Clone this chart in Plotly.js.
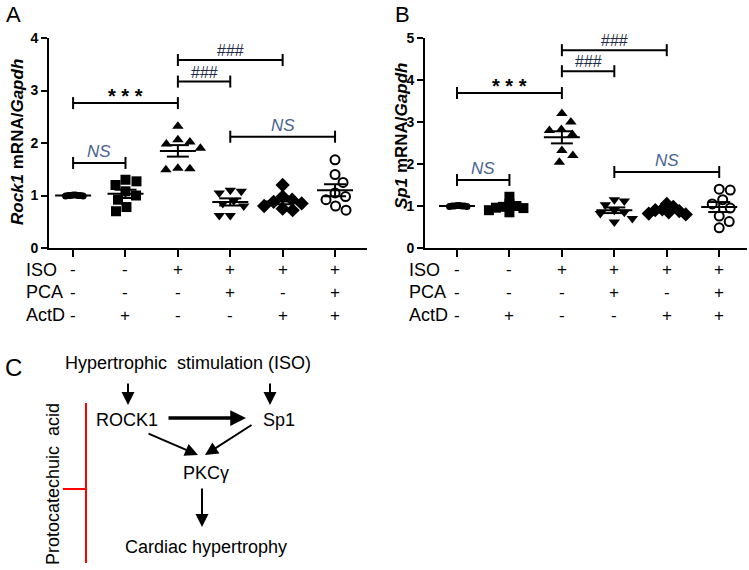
<!DOCTYPE html>
<html><head><meta charset="utf-8">
<script src="https://cdn.plot.ly/plotly-3.0.1.min.js"></script>
<style>html,body{margin:0;padding:0;background:#fff}#chart{width:749px;height:570px}</style>
</head><body><div id="chart"></div>
<script>
// ---------------- data ----------------
const categories = [1, 2, 3, 4, 5, 6];
// Panel A: Rock1 mRNA/Gapdh
const rock1_ctrl      = [1.00, 1.00, 1.01, 0.99, 1.00, 1.00, 1.01, 0.99];
const rock1_actd      = [1.30, 1.27, 1.20, 1.08, 1.00, 0.92, 0.78, 0.70];
const rock1_iso       = [2.32, 2.06, 2.02, 1.98, 1.90, 1.52, 1.49, 1.51];
const rock1_iso_pca   = [1.10, 1.08, 1.05, 0.90, 0.85, 0.80, 0.62, 0.62];
const rock1_iso_actd  = [1.20, 0.98, 0.92, 0.88, 0.85, 0.80, 0.75, 0.72];
const rock1_iso_both  = [1.68, 1.40, 1.25, 1.05, 0.98, 0.92, 0.80, 0.72];
// Panel B: Sp1 mRNA/Gapdh
const sp1_ctrl        = [1.00, 1.00, 1.01, 0.99, 1.00, 1.00, 1.01, 0.99];
const sp1_actd        = [1.22, 1.05, 1.00, 0.98, 0.96, 0.95, 0.90, 0.85];
const sp1_iso         = [3.20, 3.00, 2.82, 2.80, 2.70, 2.32, 2.20, 2.04];
const sp1_iso_pca     = [1.15, 1.12, 1.03, 0.90, 0.85, 0.82, 0.70, 0.62];
const sp1_iso_actd    = [1.05, 0.98, 0.92, 0.90, 0.88, 0.85, 0.82, 0.80];
const sp1_iso_both    = [1.40, 1.38, 1.15, 1.05, 0.95, 0.76, 0.63, 0.48];
// treatment table
const rowLabels = ['ISO', 'PCA', 'ActD'];
const isoRow  = ['-', '-', '+', '+', '+', '+'];
const pcaRow  = ['-', '-', '-', '+', '-', '+'];
const actdRow = ['-', '+', '-', '-', '+', '+'];
// significance brackets: [from, to, level, label]
const sigA = [[1, 2, 1.62, 'NS'], [1, 3, 2.76, '* * *'], [3, 4, 3.17, '###'], [3, 5, 3.58, '###'], [4, 6, 2.12, 'NS']];
const sigB = [[1, 2, 1.62, 'NS'], [1, 3, 3.69, '* * *'], [3, 4, 4.21, '###'], [3, 5, 4.71, '###'], [4, 6, 1.81, 'NS']];
const yTicksA = [0, 1, 2, 3, 4];
const yTicksB = [0, 1, 2, 3, 4, 5];

// ---------------- layout helpers ----------------
const W = 749, H = 570;
const X = p => p / W, Y = p => 1 - p / H;
const FONT = 'Arial, "Liberation Sans", sans-serif';
const symbols = ['circle', 'square', 'triangle-up', 'triangle-down', 'diamond', 'circle-open'];
const sizes = [7, 10, 10, 10, 11, 9];

const panelA = {xd: [49, 367], xr: [0.54, 6.61], yr: [0, 4], series: [rock1_ctrl, rock1_actd, rock1_iso, rock1_iso_pca, rock1_iso_actd, rock1_iso_both], sig: sigA, xa: 'x', ya: 'y', ticks: yTicksA,
  dist: [2.5, 11, 12, 11, 10, 11]};
const panelB = {xd: [425, 747], xr: [0.39, 6.53], yr: [0, 5], series: [sp1_ctrl, sp1_actd, sp1_iso, sp1_iso_pca, sp1_iso_actd, sp1_iso_both], sig: sigB, xa: 'x2', ya: 'y2', ticks: yTicksB,
  dist: [2.5, 7, 12, 10, 7, 11]};
const yDomPx = [38, 248];

function swarm(vals, pyU, pxU, minD) {
  const order = vals.map((v, i) => i).sort((a, b) => vals[b] - vals[a]);
  const placed = [], off = new Array(vals.length).fill(0);
  for (const i of order) {
    const y = vals[i] * pyU;
    let k = 0, found = null;
    while (found === null) {
      const c = k === 0 ? [0] : [k, -k];
      for (const cx of c) {
        if (placed.every(p => Math.hypot(p.x - cx, p.y - y) >= minD)) { found = cx; break; }
      }
      k += 0.5;
    }
    placed.push({x: found, y}); off[i] = found / pxU;
  }
  return off;
}

const traces = [], shapes = [], annotations = [];
const black = '#000';

function buildPanel(P) {
  const pxU = (P.xd[1] - P.xd[0]) / (P.xr[1] - P.xr[0]);
  const pyU = (yDomPx[1] - yDomPx[0]) / (P.yr[1] - P.yr[0]);
  P.series.forEach((vals, gi) => {
    const g = categories[gi];
    const off = swarm(vals, pyU, pxU, P.dist[gi]);
    const open = symbols[gi] === 'circle-open';
    traces.push({
      type: 'scatter', mode: 'markers', xaxis: P.xa, yaxis: P.ya, showlegend: false, hoverinfo: 'y',
      x: vals.map((v, i) => g + off[i]), y: vals,
      marker: {symbol: open ? 'circle' : symbols[gi], size: sizes[gi], color: open ? '#fff' : black,
               line: {color: black, width: open ? 2 : 0}}
    });
    const n = vals.length;
    const mean = vals.reduce((a, b) => a + b, 0) / n;
    const sd = Math.sqrt(vals.reduce((a, b) => a + (b - mean) ** 2, 0) / (n - 1));
    const sem = sd / Math.sqrt(n);
    const ln = {color: black, width: 2};
    const mw = 18 / pxU, cw = 11 / pxU;
    shapes.push({type: 'line', xref: P.xa, yref: P.ya, x0: g - mw, x1: g + mw, y0: mean, y1: mean, line: ln});
    shapes.push({type: 'line', xref: P.xa, yref: P.ya, x0: g, x1: g, y0: mean - sem, y1: mean + sem, line: ln});
    shapes.push({type: 'line', xref: P.xa, yref: P.ya, x0: g - cw, x1: g + cw, y0: mean - sem, y1: mean - sem, line: ln});
    shapes.push({type: 'line', xref: P.xa, yref: P.ya, x0: g - cw, x1: g + cw, y0: mean + sem, y1: mean + sem, line: ln});
  });
  const capH = 6 / pyU;
  P.sig.forEach(([a, b, lv, lab]) => {
    const ln = {color: black, width: 2};
    shapes.push({type: 'line', xref: P.xa, yref: P.ya, x0: a, x1: b, y0: lv, y1: lv, line: ln});
    shapes.push({type: 'line', xref: P.xa, yref: P.ya, x0: a, x1: a, y0: lv - capH, y1: lv + capH, line: ln});
    shapes.push({type: 'line', xref: P.xa, yref: P.ya, x0: b, x1: b, y0: lv - capH, y1: lv + capH, line: ln});
    let font, ys;
    if (lab === 'NS') { font = {family: FONT, size: 17, color: '#4a6390', style: 'italic'}; ys = 0; }
    else if (lab.indexOf('*') >= 0) { font = {family: FONT, size: 20, color: black, weight: 700}; ys = -6; }
    else { font = {family: FONT, size: 16, color: '#1f2a44'}; ys = -1; }
    annotations.push({xref: P.xa, yref: P.ya, x: (a + b) / 2, y: lv, text: lab, showarrow: false,
      xanchor: 'center', yanchor: 'bottom', yshift: ys, font});
  });
  // treatment table
  const rows = [isoRow, pcaRow, actdRow];
  const rowY = [270, 292, 315];
  rows.forEach((row, ri) => {
    row.forEach((s, ci) => {
      annotations.push({xref: P.xa, yref: 'paper', x: categories[ci], y: Y(rowY[ri]), text: s, showarrow: false,
        xanchor: 'center', yanchor: 'middle', font: {family: FONT, size: 17, color: black}});
    });
  });
}
buildPanel(panelA);
buildPanel(panelB);

// row labels
[24, 407].forEach(lx => {
  rowLabels.forEach((lab, ri) => {
    annotations.push({xref: 'paper', yref: 'paper', x: X(lx), y: Y([270, 292, 315][ri]), text: lab, showarrow: false,
      xanchor: 'left', yanchor: 'middle', font: {family: FONT, size: 18, color: black}});
  });
});

const txt = (x, y, t, size, extra) => annotations.push(Object.assign({xref: 'paper', yref: 'paper', x: X(x), y: Y(y), text: t,
  showarrow: false, xanchor: 'center', yanchor: 'middle', font: {family: FONT, size: size, color: black}}, extra || {}));

// y axis titles and panel letters
txt(17, 142, '<i>Rock1</i> mRNA/<i>Gapdh</i>', 17, {textangle: -90, font: {family: FONT, size: 17, color: black, weight: 700}});
txt(402, 136, '<i>Sp1</i> mRNA/<i>Gapdh</i>', 17, {textangle: -90, font: {family: FONT, size: 17, color: black, weight: 700}});
txt(14, 15, 'A', 22);
txt(402, 15, 'B', 22);

// ---------------- panel C diagram ----------------
txt(14, 367, 'C', 24);
txt(188, 363, 'Hypertrophic  stimulation (ISO)', 18);
txt(127, 420, 'ROCK1', 18);
txt(279, 420, 'Sp1', 18);
txt(206, 473, 'PKCγ', 18);
txt(206, 547, 'Cardiac hypertrophy', 18);
txt(53, 484, 'Protocatechuic  acid', 18, {textangle: -90});
const arrow = (hx, hy, tx, ty, w) => annotations.push({xref: 'paper', yref: 'paper', x: X(hx), y: Y(hy), ax: tx - hx, ay: ty - hy,
  text: '', showarrow: true, arrowhead: 2, arrowsize: w > 2.5 ? 0.9 : 1.3, arrowwidth: w, arrowcolor: black});
arrow(128, 405, 128, 382, 2);
arrow(270, 405, 270, 382, 2);
arrow(246, 418, 167, 418, 3.5);
arrow(198, 455, 147, 433, 2);
arrow(205, 455, 253, 424, 2);
arrow(202, 527, 202, 487, 2);
shapes.push({type: 'line', xref: 'paper', yref: 'paper', x0: X(86), x1: X(86), y0: Y(403), y1: Y(563), line: {color: '#ff0000', width: 2}});
shapes.push({type: 'line', xref: 'paper', yref: 'paper', x0: X(63), x1: X(86), y0: Y(489), y1: Y(489), line: {color: '#ff0000', width: 2}});

// ---------------- axes ----------------
function xAxis(P, anchor) {
  return {domain: [X(P.xd[0]), X(P.xd[1])], range: P.xr, anchor, showline: true, linecolor: black, linewidth: 2,
    ticks: 'outside', ticklen: 7, tickwidth: 2, tickcolor: black, tickvals: categories, showticklabels: false,
    showgrid: false, zeroline: false, fixedrange: true};
}
function yAxis(P, anchor) {
  return {domain: [Y(yDomPx[1]), Y(yDomPx[0])], range: P.yr, anchor, showline: true, linecolor: black, linewidth: 2,
    ticks: 'outside', ticklen: 6, tickwidth: 2, tickcolor: black, tickvals: P.ticks, ticktext: P.ticks.map(String),
    tickfont: {family: FONT, size: 14, color: black, weight: 700}, showgrid: false, zeroline: false, fixedrange: true};
}
const layout = {
  width: W, height: H, margin: {l: 0, r: 0, t: 0, b: 0}, paper_bgcolor: '#fff', plot_bgcolor: '#fff',
  showlegend: false,
  xaxis: xAxis(panelA, 'y'), yaxis: yAxis(panelA, 'x'),
  xaxis2: xAxis(panelB, 'y2'), yaxis2: yAxis(panelB, 'x2'),
  shapes, annotations
};
Plotly.newPlot('chart', traces, layout, {displayModeBar: false, staticPlot: true});
</script></body></html>
